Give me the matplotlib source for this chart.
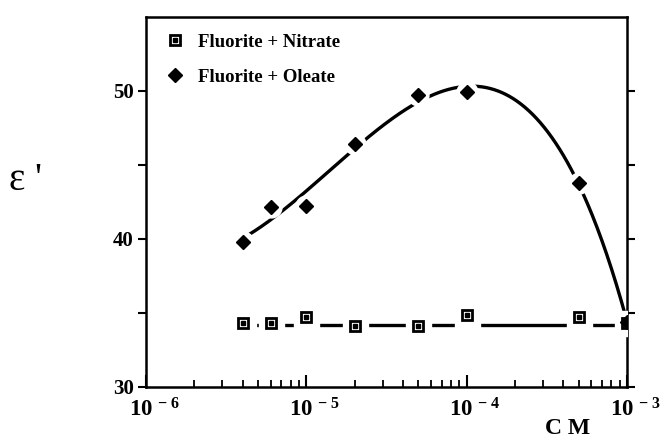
import matplotlib
matplotlib.use('Agg')
import matplotlib.pyplot as plt
from matplotlib.legend_handler import HandlerTuple
from matplotlib.ticker import FixedLocator, LogLocator, NullFormatter
from matplotlib.transforms import ScaledTranslation
import numpy as np

plt.rcParams['font.family'] = ['Liberation Serif', 'DejaVu Serif']
plt.rcParams['mathtext.fontset'] = 'custom'
plt.rcParams['mathtext.rm'] = 'Liberation Serif'
plt.rcParams['mathtext.bf'] = 'Liberation Serif:bold'

# concentration (M) and dielectric constant
conc = [4e-6, 6e-6, 1e-5, 2e-5, 5e-5, 1e-4, 5e-4, 1e-3]
eps_nitrate = [34.3, 34.3, 34.75, 34.1, 34.1, 34.85, 34.75, 34.3]
eps_oleate = [39.8, 42.15, 42.25, 46.4, 49.7, 49.9, 43.8, 34.4]
nitrate_level = 34.2

x_ticks = [1e-6, 1e-5, 1e-4, 1e-3]
x_ticklabels = [r'$\mathbf{10^{\,-6}}$', r'$\mathbf{10^{\,-5}}$',
                r'$\mathbf{10^{\,-4}}$', r'$\mathbf{10^{\,-3}}$']
y_ticks = [30, 40, 50]
y_minor = [35, 45]

# smooth fit through the oleate points (in log10 of concentration)
u = np.log10(conc)


def basis(v):
    return np.column_stack([np.ones_like(v), v, v ** 2, v ** 3, 10 ** (v + 3)])


coef = np.linalg.lstsq(basis(u), np.array(eps_oleate), rcond=None)[0]
uu = np.linspace(u[0], u[-1], 400)
oleate_fit = basis(uu) @ coef

fig = plt.figure(figsize=(6.61, 4.37), dpi=100)
ax = fig.add_axes([146 / 661, 1 - 387 / 437, 481 / 661, 370 / 437])

ax.plot(10 ** uu, oleate_fit, color='black', lw=2.4, zorder=2)
ax.plot([conc[0], conc[-1]], [nitrate_level, nitrate_level], color='black',
        lw=2.4, zorder=2)

# white halos break the lines around each marker
ax.plot(conc, eps_oleate, 'o', ms=15, color='white', zorder=3)
ax.plot(conc, eps_nitrate, 's', ms=18, color='white', zorder=3)

sq, = ax.plot(conc, eps_nitrate, 's', ms=7.5, mfc='white', mec='black',
              mew=2, zorder=4)
dot, = ax.plot(conc, eps_nitrate, 's', ms=2.3, color='black', zorder=5)
dia, = ax.plot(conc, eps_oleate, 'D', ms=7.5, color='black', zorder=6)

ax.set_xscale('log')
ax.set_xlim(1e-6, 1e-3)
ax.set_ylim(30, 55)

ax.xaxis.set_major_locator(FixedLocator(x_ticks))
ax.set_xticklabels(x_ticklabels)
ax.xaxis.set_minor_locator(LogLocator(base=10, subs=np.arange(2, 10)))
ax.xaxis.set_minor_formatter(NullFormatter())
ax.tick_params(axis='x', which='major', direction='in', length=9, width=1.5,
               labelsize=16.5, pad=8, top=False)
ax.tick_params(axis='x', which='minor', direction='in', length=5, width=1.3,
               top=False)
# keep the "10" over the tick, exponent trailing to the right
shift = ScaledTranslation(0.08, 0, fig.dpi_scale_trans)
for lab in ax.get_xticklabels():
    lab.set_transform(lab.get_transform() + shift)

ax.yaxis.set_major_locator(FixedLocator(y_ticks))
ax.yaxis.set_minor_locator(FixedLocator(y_minor))
ax.set_yticklabels([str(t) for t in y_ticks], fontweight='bold')
ax.tick_params(axis='y', which='both', direction='out', length=6, width=1.5,
               left=True, right=True, labelsize=15, pad=3)

for s in ax.spines.values():
    s.set_linewidth(1.8)

fig.text(568 / 661, 1 - 428 / 437, 'C M', fontsize=17, fontweight='bold',
         ha='center', va='center')
fig.text(9 / 661, 1 - 190 / 437, "\u03b5 '", fontsize=28, ha='left',
         va='baseline')

ax.legend([(sq, dot), dia], ['Fluorite + Nitrate', 'Fluorite + Oleate'],
          handler_map={tuple: HandlerTuple(ndivide=1)}, loc='upper left',
          bbox_to_anchor=(0.005, 1.0), frameon=False, handlelength=1.0,
          handletextpad=0.75, labelspacing=0.95, numpoints=1,
          prop={'family': 'Liberation Serif', 'weight': 'bold', 'size': 13.5})

fig.savefig('out.png', dpi=100)
